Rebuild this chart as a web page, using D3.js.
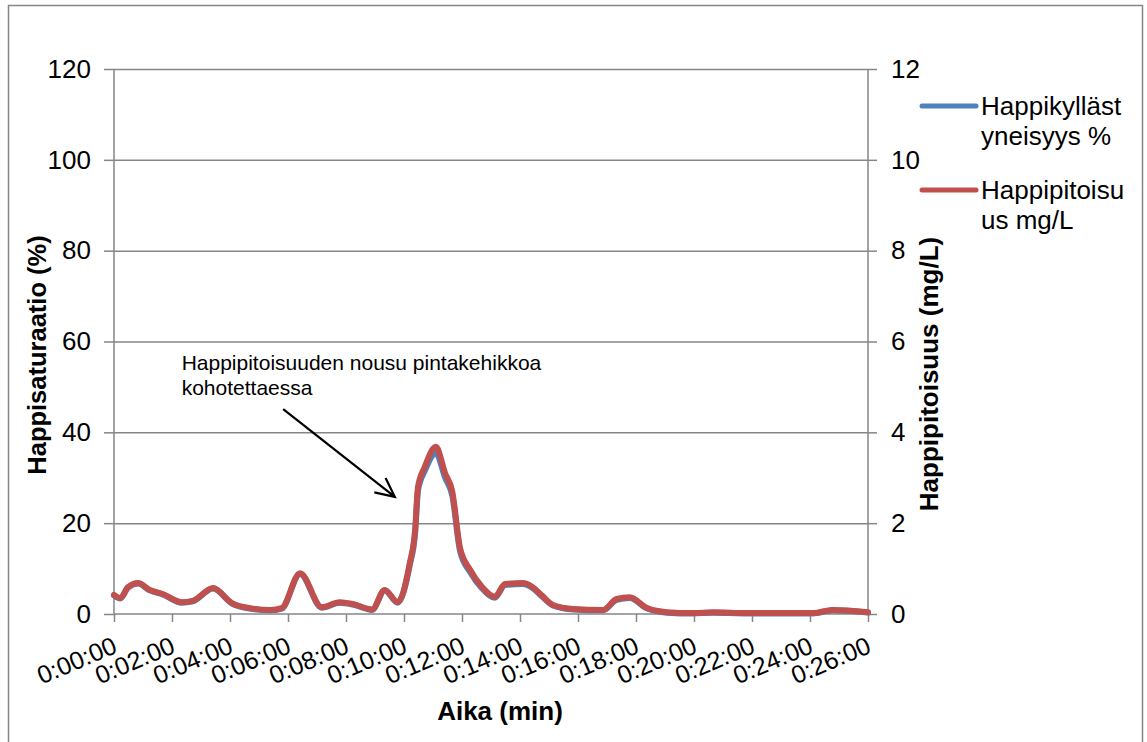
<!DOCTYPE html>
<html><head><meta charset="utf-8">
<script src="https://cdn.jsdelivr.net/npm/d3@7"></script>
<style>body{margin:0;background:#fff;} text{font-family:"Liberation Sans",Arial,sans-serif;}</style>
</head><body>
<svg id="chart" width="1147" height="742"></svg>
<script>
// Time since start (seconds)
const timeSec = [0,13,29,50,74,101,140,163,205,244,281,323,347,385,430,467,494,534,560,587,612,623,629,643,666,685,700,716,737,761,788,809,846,865,886,908,950,1012,1040,1067,1103,1144,1198,1240,1310,1446,1487,1560];
// Happikyllästyneisyys % (left axis)
const saturation = [4.1,3.4,5.8,6.7,5.2,4.3,2.5,2.8,5.6,2.3,1.2,0.8,1.2,8.8,1.4,2.5,2.1,0.9,5.2,2.5,10.8,17.8,27.2,31.5,35.4,30.0,26.0,13.8,9.2,5.7,3.6,6.4,6.6,5.8,3.8,1.9,1.0,0.8,3.1,3.5,1.2,0.3,0.1,0.3,0.1,0.1,0.8,0.3];
// Happipitoisuus mg/L (right axis)
const concentration = [0.42,0.35,0.59,0.68,0.53,0.44,0.26,0.29,0.57,0.24,0.13,0.09,0.13,0.90,0.15,0.26,0.22,0.10,0.53,0.26,1.12,1.85,2.80,3.24,3.68,3.10,2.69,1.45,0.97,0.60,0.38,0.66,0.68,0.60,0.40,0.20,0.11,0.09,0.33,0.37,0.13,0.04,0.02,0.04,0.02,0.02,0.09,0.04];
const xTicks = [0,120,240,360,480,600,720,840,960,1080,1200,1320,1440,1560];
const yLeftTicks = [0,20,40,60,80,100,120];
const yRightTicks = [0,2,4,6,8,10,12];
const seriesNames = ["Happikyllästyneisyys %","Happipitoisuus mg/L"];
const legendLines = [["Happikylläst","yneisyys %"],["Happipitoisu","us mg/L"]];
const annotationLines = ["Happipitoisuuden nousu pintakehikkoa","kohotettaessa"];
// annotation anchor positions in data units (seconds, %)
const annotationText = {t:140, v:53.7};
const arrowFrom = {t:350, v:45.1};
const arrowTo = {t:581, v:25.8};

const svg = d3.select("#chart");
const L=114, R=868, T=69, B=614;
const blue="#4F81BD", red="#C0504D", gray="#868686";

const x = d3.scaleLinear().domain([0,1560]).range([L,R]);
const yL = d3.scaleLinear().domain([0,120]).range([B,T]);
const yR = d3.scaleLinear().domain([0,12]).range([B,T]);

// outer border
svg.append("rect").attr("x",8.5).attr("y",5.5).attr("width",1134).attr("height",800)
  .attr("fill","none").attr("stroke",gray).attr("stroke-width",1.5);

// gridlines
svg.append("g").selectAll("line").data(yLeftTicks.slice(1)).join("line")
  .attr("x1",L).attr("x2",R).attr("y1",d=>yL(d)+0.5).attr("y2",d=>yL(d)+0.5)
  .attr("stroke",gray).attr("stroke-width",1.5);

const fmt = s => { const m=Math.floor(s/60), ss=s%60; return "0:"+String(m).padStart(2,"0")+":"+String(ss).padStart(2,"0"); };

// left axis
const gl = svg.append("g").attr("transform",`translate(${L},0)`)
  .call(d3.axisLeft(yL).tickValues(yLeftTicks).tickSize(10).tickPadding(13));
// right axis
const gr = svg.append("g").attr("transform",`translate(${R},0)`)
  .call(d3.axisRight(yR).tickValues(yRightTicks).tickSize(9).tickPadding(14));
// x axis
const gx = svg.append("g").attr("transform",`translate(0,${B})`)
  .call(d3.axisBottom(x).tickValues(xTicks).tickFormat(fmt).tickSize(8));
[gl,gr,gx].forEach(g=>{
  g.select(".domain").attr("stroke",gray).attr("stroke-width",1.5);
  g.selectAll(".tick line").attr("stroke",gray).attr("stroke-width",1.5);
  g.selectAll("text").attr("font-size",26).attr("fill","#000").attr("font-family","Liberation Sans, Arial, sans-serif");
});
gl.select(".domain").attr("d",`M0,${B}V${T}`);
gr.select(".domain").attr("d",`M0,${B}V${T}`);
gx.select(".domain").attr("d",`M${L},0H${R}`);
gx.selectAll(".tick text").attr("font-size",25).attr("text-anchor","end").attr("dy",null).attr("y",null)
  .attr("transform","translate(4,38) rotate(-23)");

// lines
const pts = timeSec.map((t,i)=>({t,s:saturation[i],c:concentration[i]}));
const lineS = d3.line().x(d=>x(d.t)).y(d=>yL(d.s)).curve(d3.curveMonotoneX);
const lineC = d3.line().x(d=>x(d.t)).y(d=>yR(d.c)).curve(d3.curveMonotoneX);
svg.append("path").datum(pts).attr("d",lineS).attr("fill","none").attr("stroke",blue)
  .attr("stroke-width",6).attr("stroke-linejoin","round").attr("stroke-linecap","round");
svg.append("path").datum(pts).attr("d",lineC).attr("fill","none").attr("stroke",red)
  .attr("stroke-width",6).attr("stroke-linejoin","round").attr("stroke-linecap","round");

// annotation
const at = svg.append("text").attr("x",x(annotationText.t)).attr("y",yL(annotationText.v))
  .attr("font-size",21).attr("fill","#000");
annotationLines.forEach((l,i)=>at.append("tspan").attr("x",x(annotationText.t)).attr("dy",i?25:0).text(l));
const x1=x(arrowFrom.t), y1=yL(arrowFrom.v), x2=x(arrowTo.t), y2=yL(arrowTo.v);
const ang=Math.atan2(y2-y1,x2-x1), hl=21, ha=0.45;
svg.append("path").attr("d",`M${x1},${y1}L${x2},${y2}M${x2-hl*Math.cos(ang-ha)},${y2-hl*Math.sin(ang-ha)}L${x2},${y2}L${x2-hl*Math.cos(ang+ha)},${y2-hl*Math.sin(ang+ha)}`)
  .attr("fill","none").attr("stroke","#000").attr("stroke-width",2.2);

// axis titles
svg.append("text").attr("transform","translate(46,355) rotate(-90)").attr("text-anchor","middle")
  .attr("font-size",25.5).attr("font-weight","bold").text("Happisaturaatio (%)");
svg.append("text").attr("transform","translate(938,374) rotate(-90)").attr("text-anchor","middle")
  .attr("font-size",26).attr("font-weight","bold").text("Happipitoisuus (mg/L)");
svg.append("text").attr("x",500).attr("y",720).attr("text-anchor","middle")
  .attr("font-size",26).attr("font-weight","bold").text("Aika (min)");

// legend
const lg = svg.append("g");
[blue,red].forEach((c,i)=>{
  const yy = 106 + i*84;
  lg.append("line").attr("x1",922).attr("x2",976).attr("y1",yy).attr("y2",yy)
    .attr("stroke",c).attr("stroke-width",5).attr("stroke-linecap","round");
  const t = lg.append("text").attr("x",981).attr("y",yy+9).attr("font-size",26).attr("fill","#000");
  t.append("title").text(seriesNames[i]);
  legendLines[i].forEach((l,j)=>t.append("tspan").attr("x",981).attr("dy",j?29.5:0).text(l));
});
</script>
</body></html>
